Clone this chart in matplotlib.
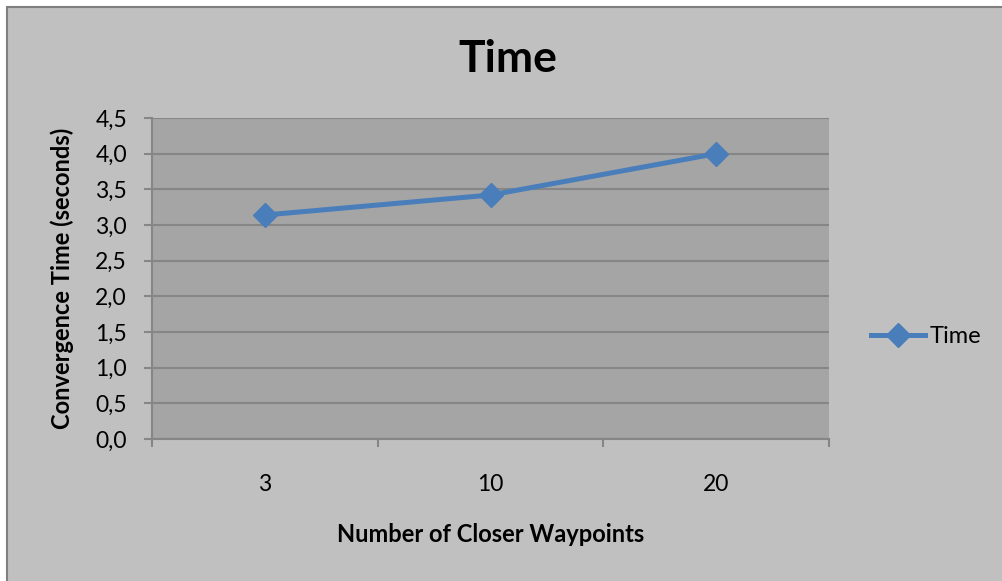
import matplotlib.pyplot as plt
from matplotlib.patches import Rectangle
from matplotlib.ticker import FuncFormatter, FixedLocator
import numpy as np

waypoints = ['3', '10', '20']
conv_time = [3.14, 3.42, 4.0]
series_name = 'Time'

plt.rcParams['font.family'] = ['Lato', 'DejaVu Sans']

W, H = 1003, 581
fig = plt.figure(figsize=(W / 100, H / 100), dpi=100, facecolor='white')

# chart area: gray panel with a darker border, offset from the top-left corner
fig.patches.append(Rectangle((7 / W, -0.1), 1, 1.1 - 7 / H, transform=fig.transFigure,
                             facecolor='#c0c0c0', edgecolor='#7f7f7f', linewidth=1.5,
                             zorder=-1))

ax = fig.add_axes([152 / W, 1 - 439 / H, (829 - 152) / W, (439 - 118) / H])
ax.set_facecolor('#a5a5a5')

x = np.arange(len(waypoints))
ax.plot(x, conv_time, color='#4a7ebb', linewidth=3.6, marker='D', markersize=12,
        label=series_name, zorder=3)

ax.set_xlim(-0.5, len(waypoints) - 0.5)
ax.set_ylim(0, 4.5)
ax.set_yticks(np.arange(0, 4.51, 0.5))
ax.yaxis.set_major_formatter(FuncFormatter(lambda v, p: f'{v:.1f}'.replace('.', ',')))
ax.grid(axis='y', color='#868686', linewidth=1.5)
ax.set_axisbelow(True)

# category labels sit between the boundary ticks
ax.xaxis.set_major_locator(FixedLocator(np.arange(-0.5, len(waypoints), 1.0)))
ax.xaxis.set_minor_locator(FixedLocator(x))
ax.set_xticklabels([])
ax.set_xticklabels(waypoints, minor=True)
ax.tick_params(axis='x', which='major', length=6, width=1.5, color='#868686', direction='out')
ax.tick_params(axis='x', which='minor', length=0, labelsize=16.5, pad=25)
ax.tick_params(axis='y', length=6, width=1.5, color='#868686', labelsize=16.5, pad=12)

for s in ['top', 'right']:
    ax.spines[s].set_visible(False)
for s in ['left', 'bottom']:
    ax.spines[s].set_color('#868686')
    ax.spines[s].set_linewidth(1.5)

# title is centred on the whole chart panel, not the plot area
ax.set_title('Time', fontsize=32, fontweight='bold', pad=33, x=(508 - 152) / (829 - 152))
ax.set_xlabel('Number of Closer Waypoints', fontsize=17, fontweight='bold', labelpad=20)
ax.set_ylabel('Convergence Time (seconds)', fontsize=17, fontweight='bold', labelpad=15)

leg = ax.legend(loc='center left', bbox_to_anchor=(1.03, 0.32), frameon=False,
                fontsize=17, handlelength=2.3, handletextpad=0.2)

fig.savefig('out.png', dpi=100, facecolor=fig.get_facecolor())
